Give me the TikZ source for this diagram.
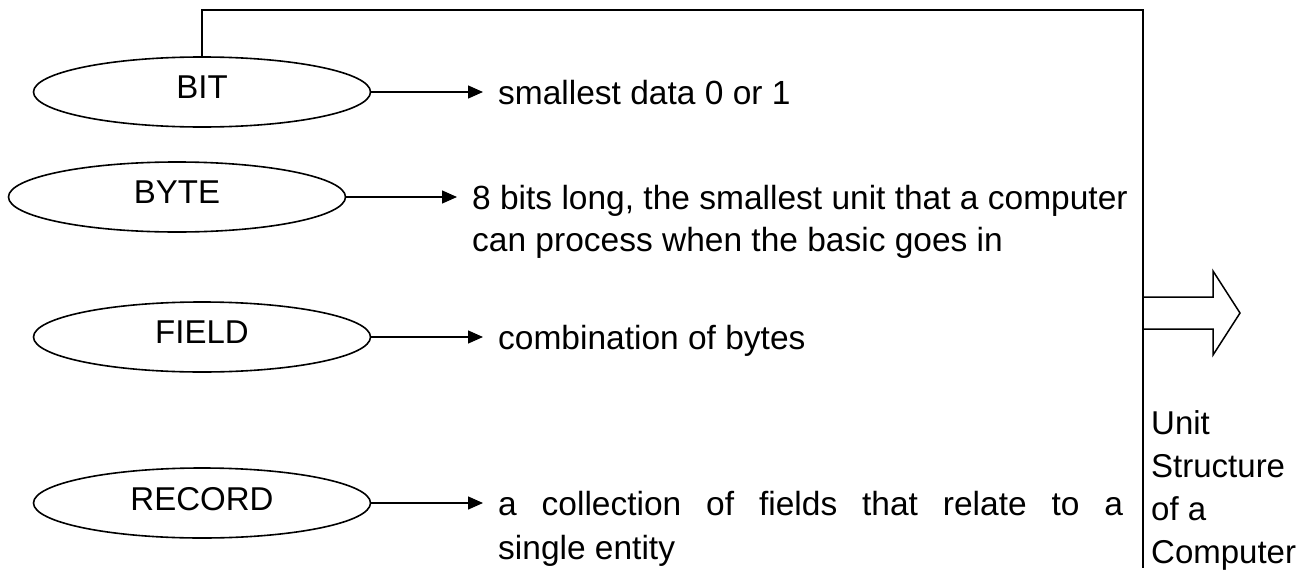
\documentclass[tikz,border=0pt]{standalone}
\usepackage{fontspec}
\setmainfont{Liberation Sans}
\usetikzlibrary{shapes.geometric,arrows.meta}
\begin{document}
\begin{tikzpicture}[x=1pt,y=-1pt,
  oval/.style={draw, ellipse, line width=1.6pt, minimum width=337pt, minimum height=70pt, inner sep=0pt, font=\fontsize{33}{40}\selectfont},
  desc/.style={anchor=north west, inner xsep=15pt, inner ysep=0pt, font=\fontsize{33.5}{42}\selectfont, align=left},
  conn/.style={-{Triangle[length=15pt,width=13pt]}, line width=1.4pt},
  frame/.style={line width=1.5pt},
]
\useasboundingbox (0,0) rectangle (1314,573);

\node[oval] (bit) at (202,92) {\raisebox{9pt}{BIT}};
\node[oval] (byte) at (177,197) {\raisebox{9pt}{BYTE}};
\node[oval] (field) at (202,337) {\raisebox{9pt}{FIELD}};
\node[oval] (record) at (202,503) {\raisebox{9pt}{RECORD}};

\node[desc] (bitd) at (483,80) {smallest data 0 or 1};
\node[desc] (byted) at (457,185) {8 bits long, the smallest unit that a computer\\can process when the basic goes in};
\node[desc] (fieldd) at (483,325) {combination of bytes};
\node[desc] (recordd) at (483,491) {\makebox[625pt][s]{a collection of fields that relate to a}\\[2pt]single entity};

\draw[conn] (bit.east) -- (bit.east -| bitd.west);
\draw[conn] (byte.east) -- (byte.east -| byted.west);
\draw[conn] (field.east) -- (field.east -| fieldd.west);
\draw[conn] (record.east) -- (record.east -| recordd.west);

\coordinate (topR) at (1143,10);
\coordinate (botR) at (1143,568);
\draw[frame] (bit.north) |- (topR) -- (botR);

\coordinate (ba) at (1143,313);
\draw[frame, line join=miter] (ba) ++(0,-16) -- ++(70,0) -- ++(0,-26) -- ++(27,42) -- ++(-27,42) -- ++(0,-26) -- ++(-70,0);

\node[anchor=north west, inner sep=0pt, align=left, font=\fontsize{33}{43}\selectfont] (unit) at (1151,410) {Unit\\Structure\\of a\\Computer};
\end{tikzpicture}
\end{document}
